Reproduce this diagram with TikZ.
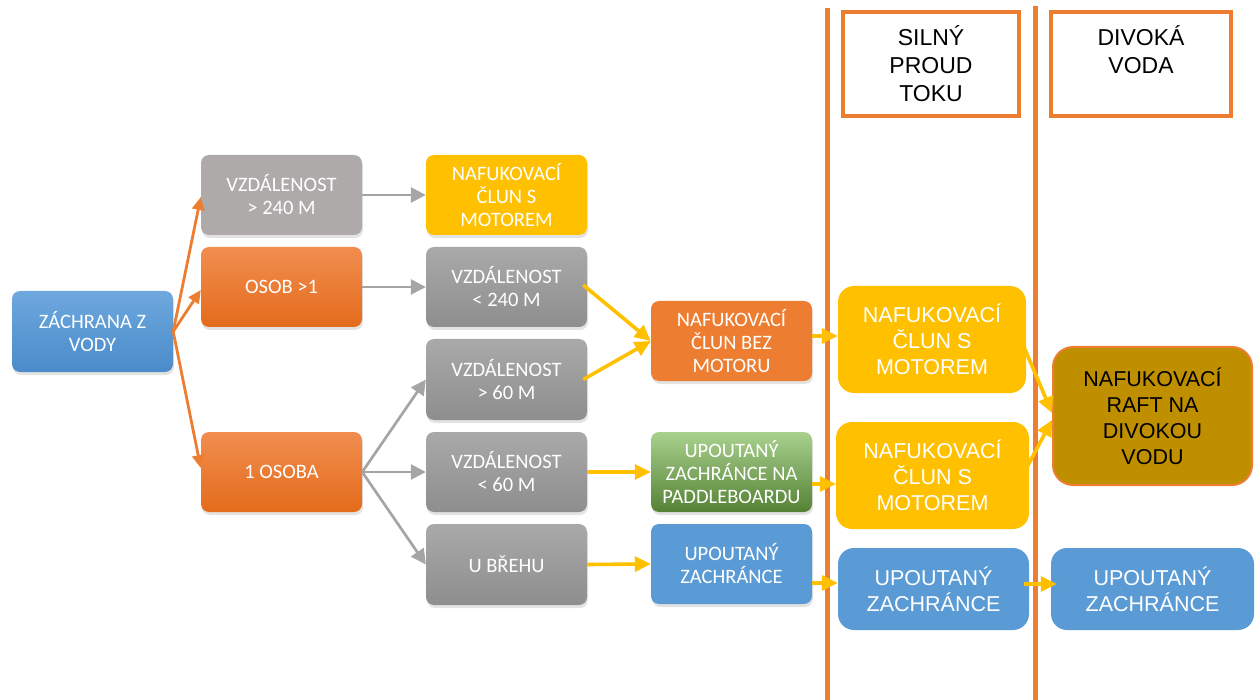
\documentclass[tikz,border=0pt]{standalone}
\usepackage{fontspec}
\setmainfont{Carlito}
\newfontfamily\arialf{Liberation Sans}
\usetikzlibrary{arrows.meta,shadows}
\definecolor{cblue}{HTML}{5B9BD5}
\definecolor{cbluetop}{HTML}{6EA8DE}
\definecolor{cbluebot}{HTML}{4A8BCA}
\definecolor{corange}{HTML}{ED7D31}
\definecolor{corangetop}{HTML}{F18D50}
\definecolor{corangebot}{HTML}{E46C1B}
\definecolor{cgray}{HTML}{AEAAAA}
\definecolor{cgraytop}{HTML}{A9A9A9}
\definecolor{cgraybot}{HTML}{8E8E8E}
\definecolor{cyellow}{HTML}{FFC000}
\definecolor{cgreentop}{HTML}{A9D18E}
\definecolor{cgreenbot}{HTML}{548235}
\definecolor{cbrown}{HTML}{BF8F00}
\definecolor{carrgray}{HTML}{A5A5A5}
\tikzset{
  lbox/.style={rounded corners=8pt, minimum width=161pt, minimum height=80pt, align=center,
    text=white, font=\fontsize{20.5}{23}\selectfont, inner sep=2pt,
    drop shadow={opacity=0.22, shadow xshift=1pt, shadow yshift=-3pt}},
  rbox/.style={rounded corners=16pt, align=center, text=white,
    font=\arialf\fontsize{21.5}{26}\selectfont, inner sep=2pt},
  hdr/.style={draw=corange, line width=4pt, fill=white, minimum width=176pt, minimum height=104pt,
    align=center, font=\arialf\fontsize{23}{28}\selectfont, inner sep=2pt},
  gshade/.style={top color=cgraytop, bottom color=cgraybot},
  oshade/.style={top color=corangetop, bottom color=corangebot},
  bshade/.style={top color=cbluetop, bottom color=cbluebot},
  oarr/.style={draw=corange, line width=2.8pt, -{Triangle[length=13pt,width=12pt]}},
  garr/.style={draw=carrgray, line width=2.7pt, -{Triangle[length=15pt,width=15pt]}},
  yarr/.style={draw=cyellow, line width=3.6pt, -{Triangle[length=16pt,width=15pt]}},
  sep/.style={draw=corange, line width=5pt}
}
\begin{document}
\begin{tikzpicture}[x=1pt,y=-1pt]
\useasboundingbox (0,0) rectangle (1255,700);
% separators
\coordinate (s1t) at (827,8);
\coordinate (s1b) at (827,700);
\coordinate (s2t) at (1035,6);
\coordinate (s2b) at (1035,700);
\draw[sep] (s1t) -- (s1b);
\draw[sep] (s2t) -- (s2b);
% left columns
\node[lbox, bshade, minimum height=81pt] (zach) at (92.5,331.5) {ZÁCHRANA Z\\VODY};
\node[lbox, fill=cgray] (v240) at (281.5,195) {VZDÁLENOST\\> 240 M};
\node[lbox, oshade] (osob) at (281.5,287) {OSOB >1};
\node[lbox, oshade] (jedna) at (281.5,472) {1 OSOBA};
\node[lbox, fill=cyellow] (nafS) at (506.5,195) {NAFUKOVACÍ\\ČLUN S\\MOTOREM};
\node[lbox, gshade] (v240m) at (506.5,287) {VZDÁLENOST\\< 240 M};
\node[lbox, gshade, minimum height=81pt] (v60v) at (506.5,379.5) {VZDÁLENOST\\> 60 M};
\node[lbox, gshade] (v60m) at (506.5,472) {VZDÁLENOST\\< 60 M};
\node[lbox, gshade, minimum height=81pt] (breh) at (506.5,564.5) {U BŘEHU};
\node[lbox, fill=corange] (bez) at (731.5,341) {NAFUKOVACÍ\\ČLUN BEZ\\MOTORU};
\node[lbox, top color=cgreentop, bottom color=cgreenbot] (green) at (731.5,472) {UPOUTANÝ\\ZACHRÁNCE NA\\PADDLEBOARDU};
\node[lbox, fill=cblue] (upo) at (731.5,564) {UPOUTANÝ\\ZACHRÁNCE};
% headers
\node[hdr] (h1) at (931,64) {SILNÝ\\PROUD\\TOKU};
\node[hdr, minimum width=180pt] (h2) at (1141,64) {DIVOKÁ\\VODA\\\phantom{X}};
% right boxes
\node[rbox, fill=cyellow, minimum width=188pt, minimum height=107pt] (r1) at (932,339.5) {NAFUKOVACÍ\\ČLUN S\\MOTOREM};
\node[rbox, fill=cyellow, minimum width=193pt, minimum height=107pt] (r2) at (932.5,475.5) {NAFUKOVACÍ\\ČLUN S\\MOTOREM};
\node[rbox, fill=cblue, minimum width=191pt, minimum height=82pt] (rup) at (933.5,589) {UPOUTANÝ\\ZACHRÁNCE};
\node[rbox, fill=cbrown, draw=corange, line width=2pt, rounded corners=20pt, text=black,
      minimum width=199pt, minimum height=138pt] (raft) at (1152.5,416) {NAFUKOVACÍ\\RAFT NA\\DIVOKOU\\VODU};
\node[rbox, fill=cblue, minimum width=203pt, minimum height=82pt] (rup2) at (1152.5,589) {UPOUTANÝ\\ZACHRÁNCE};
% orange arrows
\draw[oarr] (zach.east) -- ([yshift=-2pt]v240.west);
\draw[oarr] (zach.east) -- ([yshift=-3pt]osob.west);
\draw[oarr] (zach.east) -- ([yshift=4pt]jedna.west);
% gray arrows
\draw[garr] (v240.east) -- (nafS.west);
\draw[garr] (osob.east) -- (v240m.west);
\draw[garr] (jedna.east) -- (v60v.west);
\draw[garr] (jedna.east) -- (v60m.west);
\draw[garr] (jedna.east) -- (breh.west);
% yellow arrows
\draw[yarr] ([xshift=-4pt,yshift=2pt]v240m.east) -- (bez.west);
\draw[yarr] ([xshift=-4pt]v60v.east) -- (bez.west);
\draw[yarr] (v60m.east) -- (green.west);
\draw[yarr] (breh.east) -- (upo.west);
\draw[yarr] ([yshift=5pt]bez.east) -- ([yshift=3.5pt]r1.west);
\draw[yarr] ([yshift=-12pt]green.east) -- ([yshift=-8.5pt]r2.west);
\draw[yarr] ([yshift=-19pt]upo.east) -- ([yshift=6pt]rup.west);
\draw[yarr] ([xshift=-5pt,yshift=5pt]rup.east) -- ([xshift=6pt,yshift=5pt]rup2.west);
\draw[yarr] ([xshift=-2pt,yshift=-8pt]r1.east) -- ([yshift=3pt]raft.west);
\draw[yarr] ([xshift=-4pt,yshift=5pt]r2.east) -- ([yshift=-4pt]raft.west);
\end{tikzpicture}
\end{document}
